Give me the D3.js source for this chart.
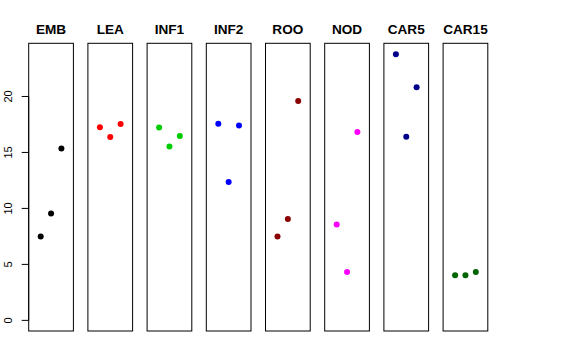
<!DOCTYPE html>
<html lang="en">
<head>
<meta charset="UTF-8" />
<title>Panels</title>
<script src="https://d3js.org/d3.v7.min.js"></script>
<style>
    body { margin: 0; background: #fff; }
    svg { display: block; font-family: "Liberation Sans", Arial, sans-serif; }
    .title { font-size: 13.6px; font-weight: bold; }
    .tick-label { font-size: 11px; }
</style>
</head>
<body>
<svg id="chart" width="576" height="360"></svg>
<script>
    // panel names and colours
    const groups = ["EMB", "LEA", "INF1", "INF2", "ROO", "NOD", "CAR5", "CAR15"];
    const colors = ["#000000", "#FF0000", "#00CD00", "#0000FF", "#8B0000", "#FF00FF", "#00008B", "#006400"];

    // three replicate values per panel (x = 1, 2, 3)
    const replicate1 = [7.5, 17.26, 17.23, 17.56, 7.5, 8.57, 23.78, 4.02];
    const replicate2 = [9.55, 16.37, 15.54, 12.35, 9.05, 4.32, 16.4, 4.02];
    const replicate3 = [15.35, 17.53, 16.46, 17.41, 19.6, 16.82, 20.83, 4.31];

    const yTicks = [0, 5, 10, 15, 20];

    const svg = d3.select("#chart");

    const plotTop = 43.3, plotBottom = 331;
    const panelW = 44.7, firstLeft = 28.7, step = 59.2;

    const y = d3.scaleLinear().domain([-0.95, 24.75]).range([plotBottom, plotTop]);
    const x = d3.scaleLinear().domain([-0.16, 4.16]).range([0, panelW]);

    // y axis (R style, rotated labels)
    const axis = svg.append("g");
    axis.append("line")
        .attr("x1", firstLeft).attr("x2", firstLeft)
        .attr("y1", y(0)).attr("y2", y(20))
        .attr("stroke", "#000");
    axis.selectAll(".tick")
        .data(yTicks)
        .enter().append("line")
        .attr("x1", firstLeft - 7).attr("x2", firstLeft)
        .attr("y1", d => y(d)).attr("y2", d => y(d))
        .attr("stroke", "#000");
    axis.selectAll(".tick-label")
        .data(yTicks)
        .enter().append("text")
        .attr("class", "tick-label")
        .attr("text-anchor", "middle")
        .attr("transform", d => `translate(12,${y(d)}) rotate(-90)`)
        .text(d => d);

    groups.forEach((g, i) => {
        const left = firstLeft + i * step;
        const panel = svg.append("g").attr("transform", `translate(${left},0)`);

        panel.append("rect")
            .attr("x", 0).attr("y", plotTop)
            .attr("width", panelW).attr("height", plotBottom - plotTop)
            .attr("fill", "none")
            .attr("stroke", "#000");

        panel.append("text")
            .attr("class", "title")
            .attr("x", panelW / 2).attr("y", 33.5)
            .attr("text-anchor", "middle")
            .text(g);

        const pts = [replicate1[i], replicate2[i], replicate3[i]].map((v, j) => ({ x: j + 1, v }));
        panel.selectAll("circle")
            .data(pts)
            .enter().append("circle")
            .attr("cx", d => x(d.x))
            .attr("cy", d => y(d.v))
            .attr("r", 3)
            .attr("fill", colors[i]);
    });
</script>
</body>
</html>
